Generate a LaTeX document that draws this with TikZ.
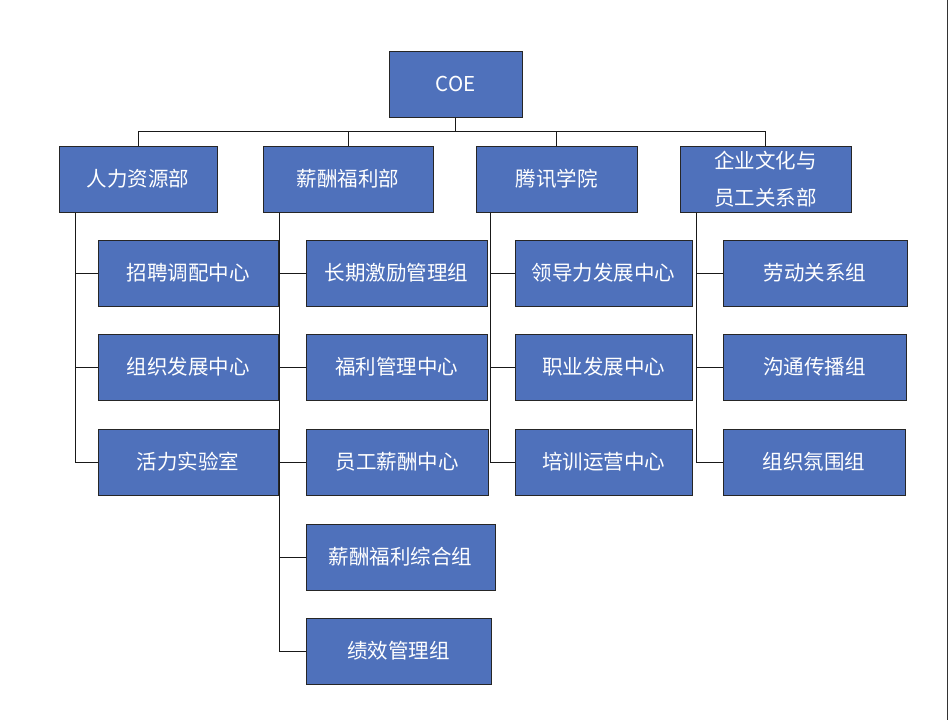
\documentclass[tikz,border=0pt]{standalone}
\usepackage{fontspec}
\setmainfont{Noto Sans CJK SC}
\definecolor{boxblue}{RGB}{79,113,187}
\def\bw{66}
\tikzset{
  unitbox/.style={draw=black!85,line width=1pt,fill=boxblue,text=white,
    minimum height=\bw pt,inner sep=0pt,font=\fontsize{20.5}{37}\selectfont,align=center},
  link/.style={line width=1pt,black!90}
}

\begin{document}
\begin{tikzpicture}[x=1pt,y=-1pt]
        %
        \useasboundingbox[fill=white] (0,0) rectangle (948,720);
        \draw[line width=1pt,black!80] (947,0) -- (947,720);
        %
        \node[unitbox,minimum width=133pt] (coe) at (455.5,84) {COE};
        %
        \node[unitbox,minimum width=158pt] (hr) at (138,179) {人力资源部};
        \node[unitbox,minimum width=170pt] (comp) at (348,179) {薪酬福利部};
        \node[unitbox,minimum width=161pt] (acad) at (556.5,179) {腾讯学院};
        \node[unitbox,minimum width=171pt] (cult) at (765.5,179) {企业文化与\\员工关系部};
        %
        \node[unitbox,minimum width=180pt] (hra) at (188,273) {招聘调配中心};
        \node[unitbox,minimum width=180pt] (hrb) at (188,367) {组织发展中心};
        \node[unitbox,minimum width=180pt] (hrc) at (188,462) {活力实验室};
        %
        \node[unitbox,minimum width=181pt] (compa) at (396.5,273) {长期激励管理组};
        \node[unitbox,minimum width=181pt] (compb) at (396.5,367) {福利管理中心};
        \node[unitbox,minimum width=182pt] (compc) at (397,462) {员工薪酬中心};
        \node[unitbox,minimum width=189pt] (compd) at (400.5,557) {薪酬福利综合组};
        \node[unitbox,minimum width=185pt] (compe) at (398.5,651) {绩效管理组};
        %
        \node[unitbox,minimum width=177pt] (acada) at (603.5,273) {领导力发展中心};
        \node[unitbox,minimum width=177pt] (acadb) at (603.5,367) {职业发展中心};
        \node[unitbox,minimum width=177pt] (acadc) at (603.5,462) {培训运营中心};
        %
        \node[unitbox,minimum width=184pt] (culta) at (815,273) {劳动关系组};
        \node[unitbox,minimum width=183pt] (cultb) at (814.5,367) {沟通传播组};
        \node[unitbox,minimum width=182pt] (cultc) at (814,462) {组织氛围组};
        %
        % COE to departments
        \draw[link] (coe.south) -- ++(0,14) -| (hr.north);
        \draw[link] (coe.south) -- ++(0,14) -| (comp.north);
        \draw[link] (coe.south) -- ++(0,14) -| (acad.north);
        \draw[link] (coe.south) -- ++(0,14) -| (cult.north);
        %
        % departments to units
        \draw[link] ([xshift=17pt]hr.south west) |- (hra.west);
        \draw[link] ([xshift=17pt]hr.south west) |- (hrb.west);
        \draw[link] ([xshift=17pt]hr.south west) |- (hrc.west);
        \draw[link] ([xshift=17pt]comp.south west) |- (compa.west);
        \draw[link] ([xshift=17pt]comp.south west) |- (compb.west);
        \draw[link] ([xshift=17pt]comp.south west) |- (compc.west);
        \draw[link] ([xshift=17pt]comp.south west) |- (compd.west);
        \draw[link] ([xshift=17pt]comp.south west) |- (compe.west);
        \draw[link] ([xshift=15pt]acad.south west) |- (acada.west);
        \draw[link] ([xshift=15pt]acad.south west) |- (acadb.west);
        \draw[link] ([xshift=15pt]acad.south west) |- (acadc.west);
        \draw[link] ([xshift=17pt]cult.south west) |- (culta.west);
        \draw[link] ([xshift=17pt]cult.south west) |- (cultb.west);
        \draw[link] ([xshift=17pt]cult.south west) |- (cultc.west);
      \end{tikzpicture}
\end{document}
